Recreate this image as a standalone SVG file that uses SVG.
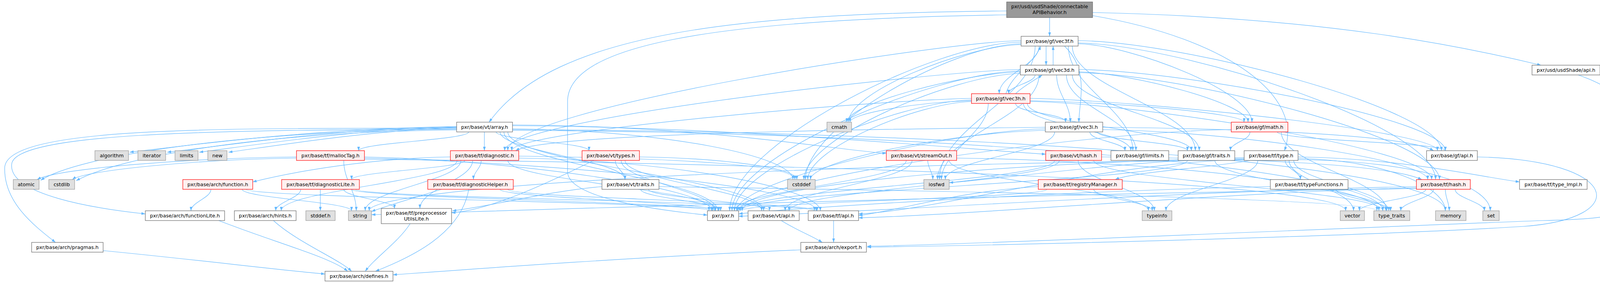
<svg xmlns="http://www.w3.org/2000/svg" width="4258" height="725" viewBox="0 0 4258 725">
<defs>
<marker id="ah" viewBox="0 0 10 7" refX="10" refY="3.5" markerWidth="10" markerHeight="7" markerUnits="userSpaceOnUse" orient="auto"><path d="M0,0 L10,3.5 L0,7 z" fill="#63b8ff"/></marker>
</defs>
<style>
.e path{fill:none;stroke:#63b8ff;stroke-width:1.2;marker-end:url(#ah)}
rect{stroke-width:1.2}
.w{fill:#ffffff;stroke:#666666}
.g{fill:#e0e0e0;stroke:#999999}
.r{fill:#fff0f0;stroke:#ff0000}
.t{fill:#999999;stroke:#666666}
text{font-family:"DejaVu Sans","Liberation Sans",sans-serif;font-size:12.7px;text-anchor:middle;fill:#000000}
</style>
<rect width="4258" height="725" fill="#ffffff" stroke="none"/>
<g id="edges" class="e">
<path d="M2687,45 C2687,65 2687,73 2687,93"/>
<path d="M2577,28 C1900,35 1420,80 1252,313"/>
<path d="M2577,38 C1800,50 1453,120 1453,260 L1453,440 C1453,510 1700,540 1811,551"/>
<path d="M2797,32 C3400,45 3750,120 3945,167"/>
<path d="M2797,40 C3150,100 3340,250 3288,386"/>
<path d="M2678,118 C2678,138 2678,147 2678,167"/>
<path d="M2660,118 C2660,167 2558,191 2558,240"/>
<path d="M2725,118 C2790,180 2762,260 2762,313"/>
<path d="M2614,114 C2470,118 2172,235 2172,313"/>
<path d="M2760,112 C2900,116 3205,235 3205,313"/>
<path d="M2614,108 C2390,110 1868,372 1868,540"/>
<path d="M2614,104 C2400,108 1300,280 1300,386"/>
<path d="M2760,104 C3040,108 3690,280 3690,386"/>
<path d="M2735,118 C2735,225 2900,280 2900,386"/>
<path d="M2745,118 C2745,225 3060,280 3060,386"/>
<path d="M2760,110 C3030,115 3675,323 3675,460"/>
<path d="M2614,112 C2440,115 2062,323 2062,460"/>
<path d="M2650,118 C2650,255 2405,323 2405,460"/>
<path d="M2696,167 C2696,150 2696,135 2696,118"/>
<path d="M2650,192 C2650,212 2582,220 2582,240"/>
<path d="M2705,192 C2705,240 2740,265 2740,313"/>
<path d="M2612,184 C2470,188 2168,265 2168,313"/>
<path d="M2762,184 C2900,188 3195,265 3195,313"/>
<path d="M2612,182 C2390,185 1874,400 1874,540"/>
<path d="M2612,178 C2400,182 1292,305 1292,386"/>
<path d="M2762,178 C3040,182 3700,305 3700,386"/>
<path d="M2730,192 C2730,273 2908,305 2908,386"/>
<path d="M2745,192 C2745,273 3070,305 3070,386"/>
<path d="M2762,186 C3030,190 3685,353 3685,460"/>
<path d="M2612,188 C2440,192 2058,353 2058,460"/>
<path d="M2660,192 C2660,300 2400,350 2400,460"/>
<path d="M2575,240 C2590,190 2650,160 2664,118"/>
<path d="M2600,240 C2620,220 2650,205 2668,192"/>
<path d="M2600,265 C2600,290 2728,290 2728,313"/>
<path d="M2487,258 C2350,262 2176,290 2176,313"/>
<path d="M2637,258 C2850,262 3185,290 3185,313"/>
<path d="M2487,256 C2300,260 1880,430 1880,540"/>
<path d="M2487,252 C2250,256 1310,335 1310,386"/>
<path d="M2637,252 C2900,256 3680,335 3680,386"/>
<path d="M2620,265 C2620,320 2895,335 2895,386"/>
<path d="M2630,265 C2630,320 3050,335 3050,386"/>
<path d="M2637,260 C2900,264 3665,380 3665,460"/>
<path d="M2487,260 C2350,264 2068,380 2068,460"/>
<path d="M2530,265 C2530,340 2410,390 2410,460"/>
<path d="M2676,330 C2450,334 1886,460 1886,540"/>
<path d="M2676,326 C2300,330 1400,340 1320,386"/>
<path d="M2823,326 C3200,330 3600,345 3670,386"/>
<path d="M2790,338 C2790,360 2880,365 2880,386"/>
<path d="M2810,338 C2810,360 3040,365 3040,386"/>
<path d="M2823,332 C3150,336 3655,410 3655,460"/>
<path d="M2676,334 C2450,338 2075,410 2075,460"/>
<path d="M2700,338 C2700,390 2420,410 2420,460"/>
<path d="M3152,332 C2800,336 1892,460 1892,540"/>
<path d="M3270,338 C3270,360 3700,365 3700,386"/>
<path d="M3200,338 C3200,360 3150,365 3150,386"/>
<path d="M3280,338 C3280,420 3550,460 3550,540"/>
<path d="M1290,338 C1290,419 1838,460 1838,540"/>
<path d="M1300,338 C1300,419 1955,460 1955,540"/>
<path d="M1312,322 C1900,325 2500,385 2677,395"/>
<path d="M1312,320 C1800,322 2150,385 2269,393"/>
<path d="M1280,338 C1280,387 1600,411 1600,460"/>
<path d="M1270,338 C1270,358 1508,366 1508,386"/>
<path d="M1169,330 C700,335 40,330 30,420 C20,500 250,535 372,548"/>
<path d="M1169,328 C600,330 15,320 12,430 C10,520 90,580 142,621"/>
<path d="M1240,338 C1240,358 1240,366 1240,386"/>
<path d="M1200,338 C1200,358 918,366 918,386"/>
<path d="M1169,324 C800,330 500,370 332,390"/>
<path d="M1169,325 C850,330 600,370 428,390"/>
<path d="M1169,326 C900,332 650,372 510,390"/>
<path d="M1169,327 C950,334 700,374 585,390"/>
<path d="M1169,331 C600,336 200,400 104,462"/>
<path d="M1169,333 C650,338 300,405 195,463"/>
<path d="M1312,330 C1700,334 2030,400 2030,460"/>
<path d="M1312,332 C2500,336 3700,420 3700,540"/>
<path d="M1312,334 C2400,338 3540,430 3540,540"/>
<path d="M933,402 C1300,410 1822,480 1822,540"/>
<path d="M933,405 C1400,415 2090,480 2090,540"/>
<path d="M759,402 C500,405 150,430 95,460"/>
<path d="M759,405 C520,408 220,435 185,460"/>
<path d="M880,411 C880,463 912,488 912,540"/>
<path d="M933,408 C2200,420 3445,470 3445,540"/>
<path d="M1300,411 C1300,463 1840,488 1840,540"/>
<path d="M1190,411 C1190,431 900,440 900,460"/>
<path d="M1232,411 C1232,431 1212,440 1212,460"/>
<path d="M1328,405 C1700,410 2100,480 2100,540"/>
<path d="M1153,402 C950,405 750,440 647,466"/>
<path d="M1170,411 C1170,463 720,488 720,540"/>
<path d="M1210,411 C1210,460 1075,485 1075,534"/>
<path d="M1180,411 C1180,463 935,488 935,540"/>
<path d="M1328,400 C1700,405 2035,420 2035,460"/>
<path d="M1590,411 C1590,463 1830,488 1830,540"/>
<path d="M1600,411 C1600,463 1950,488 1950,540"/>
<path d="M1575,411 C1575,431 1600,440 1600,460"/>
<path d="M1637,402 C1850,405 2040,430 2040,460"/>
<path d="M1520,411 C1400,470 1250,540 1156,545"/>
<path d="M2320,411 C2320,463 1880,488 1880,540"/>
<path d="M2335,411 C2335,463 2010,488 2010,540"/>
<path d="M2375,411 C2375,431 2388,440 2388,460"/>
<path d="M2430,411 C2430,463 2940,488 2940,540"/>
<path d="M2449,405 C2900,410 3530,470 3530,540"/>
<path d="M2700,411 C2700,463 1888,488 1888,540"/>
<path d="M2712,411 C2712,463 2020,488 2020,540"/>
<path d="M2820,402 C3200,406 3550,420 3640,460"/>
<path d="M2760,411 C2760,463 2955,488 2955,540"/>
<path d="M2800,411 C2800,463 3540,488 3540,540"/>
<path d="M3040,411 C3040,463 1895,488 1895,540"/>
<path d="M3110,411 C3110,463 3548,488 3548,540"/>
<path d="M3185,406 C2700,410 1900,470 1900,540"/>
<path d="M3185,408 C2800,420 2400,540 2198,548"/>
<path d="M3290,411 C3290,431 3329,440 3329,460"/>
<path d="M3323,402 C3600,406 3800,455 3890,466"/>
<path d="M3200,411 C3100,430 2900,440 2855,460"/>
<path d="M3185,404 C2900,410 2550,460 2430,468"/>
<path d="M3323,406 C3550,410 3700,480 3700,540"/>
<path d="M3323,409 C3650,413 3815,480 3815,540"/>
<path d="M3185,410 C2000,420 945,480 945,540"/>
<path d="M3220,411 C3220,463 2985,488 2985,540"/>
<path d="M3300,411 C3300,463 3465,488 3465,540"/>
<path d="M3312,411 C3312,463 3555,488 3555,540"/>
<path d="M3782,402 C4150,410 4180,560 3900,580 C3500,605 2600,628 2220,633"/>
<path d="M4040,192 C4180,240 4230,330 4230,420 C4230,540 4180,560 3950,565 C3300,590 2600,622 2220,631"/>
<path d="M2680,485 C2680,507 1895,518 1895,540"/>
<path d="M2658,478 C2450,490 2300,540 2198,552"/>
<path d="M2800,485 C2800,507 2950,518 2950,540"/>
<path d="M3252,478 C2700,490 2000,535 1891,548"/>
<path d="M3420,485 C3420,507 3560,518 3560,540"/>
<path d="M3626,478 C3000,490 2200,545 1891,554"/>
<path d="M3626,481 C3100,495 2500,550 2198,558"/>
<path d="M3670,485 C3670,507 3586,518 3586,540"/>
<path d="M3700,485 C3700,507 3710,518 3710,540"/>
<path d="M3725,485 C3725,507 3800,518 3800,540"/>
<path d="M3650,485 C3650,507 3480,518 3480,540"/>
<path d="M3626,483 C2500,500 1300,540 951,550"/>
<path d="M900,485 C900,507 1825,518 1825,540"/>
<path d="M910,485 C910,507 2085,518 2085,540"/>
<path d="M770,485 C770,507 706,518 706,540"/>
<path d="M880,485 C880,505 1010,514 1010,534"/>
<path d="M820,485 C820,507 820,518 820,540"/>
<path d="M1280,485 C1280,507 1832,518 1832,540"/>
<path d="M1300,485 C1300,507 2092,518 2092,540"/>
<path d="M1200,485 C1180,600 1050,660 961,695"/>
<path d="M1130,485 C1050,510 980,530 951,542"/>
<path d="M540,485 C540,507 489,518 489,540"/>
<path d="M630,485 C630,507 1815,518 1815,540"/>
<path d="M620,485 C620,507 900,518 900,540"/>
<path d="M1640,485 C1640,507 1845,518 1845,540"/>
<path d="M1660,485 C1660,507 1970,518 1970,540"/>
<path d="M1541,478 C1400,490 1250,530 1158,540"/>
<path d="M1687,478 C2500,490 3525,510 3525,540"/>
<path d="M560,565 C700,620 850,660 890,695"/>
<path d="M700,565 C760,620 870,665 900,695"/>
<path d="M264,642 C500,665 700,690 832,702"/>
<path d="M1050,573 C1020,620 960,660 935,695"/>
<path d="M2050,640 C1600,660 1200,690 1006,704"/>
<path d="M2000,565 C2040,590 2080,605 2105,621"/>
<path d="M2134,565 C2134,590 2134,600 2134,621"/>
</g>
<g id="n0"><rect class="t" x="2577" y="5" width="220" height="40"/><text x="2687" y="21">pxr/usd/usdShade/connectable</text><text x="2687" y="36">APIBehavior.h</text></g>
<g id="n1"><rect class="w" x="2614" y="93" width="146" height="25"/><text x="2687" y="110">pxr/base/gf/vec3f.h</text></g>
<g id="n2"><rect class="w" x="3922" y="167" width="174" height="25"/><text x="4009" y="184">pxr/usd/usdShade/api.h</text></g>
<g id="n3"><rect class="w" x="2612" y="167" width="150" height="25"/><text x="2687" y="184">pxr/base/gf/vec3d.h</text></g>
<g id="n4"><rect class="r" x="2487" y="240" width="150" height="25"/><text x="2562" y="257">pxr/base/gf/vec3h.h</text></g>
<g id="n5"><rect class="w" x="1169" y="313" width="143" height="25"/><text x="1240.5" y="330">pxr/base/vt/array.h</text></g>
<g id="n6"><rect class="g" x="2117" y="313" width="63" height="25"/><text x="2148.5" y="330">cmath</text></g>
<g id="n7"><rect class="w" x="2676" y="313" width="147" height="25"/><text x="2749.5" y="330">pxr/base/gf/vec3i.h</text></g>
<g id="n8"><rect class="r" x="3152" y="313" width="145" height="25"/><text x="3224.5" y="330">pxr/base/gf/math.h</text></g>
<g id="n9"><rect class="g" x="243" y="386" width="86" height="25"/><text x="286" y="403">algorithm</text></g>
<g id="n10"><rect class="g" x="353" y="386" width="71" height="25"/><text x="388.5" y="403">iterator</text></g>
<g id="n11"><rect class="g" x="448" y="386" width="59" height="25"/><text x="477.5" y="403">limits</text></g>
<g id="n12"><rect class="g" x="532" y="386" width="49" height="25"/><text x="556.5" y="403">new</text></g>
<g id="n13"><rect class="r" x="759" y="386" width="174" height="25"/><text x="846" y="403">pxr/base/tf/mallocTag.h</text></g>
<g id="n14"><rect class="r" x="1153" y="386" width="175" height="25"/><text x="1240.5" y="403">pxr/base/tf/diagnostic.h</text></g>
<g id="n15"><rect class="r" x="1490" y="386" width="147" height="25"/><text x="1563.5" y="403">pxr/base/vt/types.h</text></g>
<g id="n16"><rect class="r" x="2269" y="386" width="180" height="25"/><text x="2359" y="403">pxr/base/vt/streamOut.h</text></g>
<g id="n17"><rect class="r" x="2677" y="386" width="143" height="25"/><text x="2748.5" y="403">pxr/base/vt/hash.h</text></g>
<g id="n18"><rect class="w" x="2844" y="386" width="148" height="25"/><text x="2918" y="403">pxr/base/gf/limits.h</text></g>
<g id="n19"><rect class="w" x="3016" y="386" width="145" height="25"/><text x="3088.5" y="403">pxr/base/gf/traits.h</text></g>
<g id="n20"><rect class="w" x="3185" y="386" width="138" height="25"/><text x="3254" y="403">pxr/base/tf/type.h</text></g>
<g id="n21"><rect class="w" x="3652" y="386" width="130" height="25"/><text x="3717" y="403">pxr/base/gf/api.h</text></g>
<g id="n22"><rect class="g" x="34" y="460" width="66" height="25"/><text x="67" y="477">atomic</text></g>
<g id="n23"><rect class="g" x="125" y="460" width="66" height="25"/><text x="158" y="477">cstdlib</text></g>
<g id="n24"><rect class="r" x="468" y="460" width="179" height="25"/><text x="557.5" y="477">pxr/base/arch/function.h</text></g>
<g id="n25"><rect class="r" x="721" y="460" width="199" height="25"/><text x="820.5" y="477">pxr/base/tf/diagnosticLite.h</text></g>
<g id="n26"><rect class="r" x="1095" y="460" width="219" height="25"/><text x="1204.5" y="477">pxr/base/tf/diagnosticHelper.h</text></g>
<g id="n27"><rect class="w" x="1541" y="460" width="146" height="25"/><text x="1614" y="477">pxr/base/vt/traits.h</text></g>
<g id="n28"><rect class="g" x="2016" y="460" width="71" height="25"/><text x="2051.5" y="477">cstddef</text></g>
<g id="n29"><rect class="g" x="2365" y="460" width="65" height="25"/><text x="2397.5" y="477">iosfwd</text></g>
<g id="n30"><rect class="r" x="2658" y="460" width="215" height="25"/><text x="2765.5" y="477">pxr/base/tf/registryManager.h</text></g>
<g id="n31"><rect class="w" x="3252" y="460" width="199" height="25"/><text x="3351.5" y="477">pxr/base/tf/typeFunctions.h</text></g>
<g id="n32"><rect class="r" x="3626" y="460" width="138" height="25"/><text x="3695" y="477">pxr/base/tf/hash.h</text></g>
<g id="n33"><rect class="w" x="3890" y="460" width="173" height="25"/><text x="3976.5" y="477">pxr/base/tf/type_Impl.h</text></g>
<g id="n34"><rect class="w" x="372" y="540" width="203" height="25"/><text x="473.5" y="557">pxr/base/arch/functionLite.h</text></g>
<g id="n35"><rect class="w" x="600" y="540" width="158" height="25"/><text x="679" y="557">pxr/base/arch/hints.h</text></g>
<g id="n36"><rect class="g" x="783" y="540" width="75" height="25"/><text x="820.5" y="557">stddef.h</text></g>
<g id="n37"><rect class="g" x="892" y="540" width="59" height="25"/><text x="921.5" y="557">string</text></g>
<g id="n38"><rect class="w" x="976" y="534" width="180" height="39"/><text x="1066" y="550">pxr/base/tf/preprocessor</text><text x="1066" y="565">UtilsLite.h</text></g>
<g id="n39"><rect class="w" x="1811" y="540" width="80" height="25"/><text x="1851" y="557">pxr/pxr.h</text></g>
<g id="n40"><rect class="w" x="1915" y="540" width="131" height="25"/><text x="1980.5" y="557">pxr/base/vt/api.h</text></g>
<g id="n41"><rect class="w" x="2069" y="540" width="129" height="25"/><text x="2133.5" y="557">pxr/base/tf/api.h</text></g>
<g id="n42"><rect class="g" x="2924" y="540" width="76" height="25"/><text x="2962" y="557">typeinfo</text></g>
<g id="n43"><rect class="g" x="3431" y="540" width="62" height="25"/><text x="3462" y="557">vector</text></g>
<g id="n44"><rect class="g" x="3517" y="540" width="92" height="25"/><text x="3563" y="557">type_traits</text></g>
<g id="n45"><rect class="g" x="3675" y="540" width="78" height="25"/><text x="3714" y="557">memory</text></g>
<g id="n46"><rect class="g" x="3796" y="540" width="42" height="25"/><text x="3817" y="557">set</text></g>
<g id="n47"><rect class="w" x="81" y="621" width="183" height="25"/><text x="172.5" y="638">pxr/base/arch/pragmas.h</text></g>
<g id="n48"><rect class="w" x="2050" y="621" width="168" height="25"/><text x="2134" y="638">pxr/base/arch/export.h</text></g>
<g id="n49"><rect class="w" x="832" y="695" width="174" height="25"/><text x="919" y="712">pxr/base/arch/defines.h</text></g>
</svg>
